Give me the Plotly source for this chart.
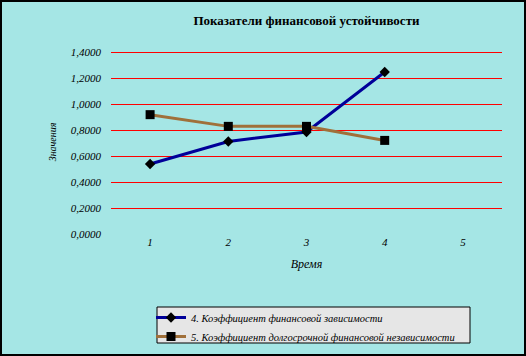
import plotly.graph_objects as go

periods = [1, 2, 3, 4]
x_ticks = [1, 2, 3, 4, 5]
dependence = [0.538, 0.712, 0.785, 1.246]
lt_independence = [0.918, 0.828, 0.828, 0.720]
y_ticks = [0, 0.2, 0.4, 0.6, 0.8, 1.0, 1.2, 1.4]

BG = "#A5E6E5"
W, H = 526, 356
ml, mr, mt, mb = 111, 24, 50, 122
pw, ph = W - ml - mr, H - mt - mb
y_top = 1.4 * ph / 182.0

def px(x):
    return (x - ml) / pw

def py(y):
    return (H - mb - y) / ph

fig = go.Figure()
fig.add_trace(go.Scatter(
    x=periods, y=dependence, mode="lines+markers",
    name="4. Коэффициент финансовой зависимости",
    line=dict(color="#000099", width=3),
    marker=dict(symbol="diamond", size=8, color="black"),
))
fig.add_trace(go.Scatter(
    x=periods, y=lt_independence, mode="lines+markers",
    name="5. Коэффициент долгосрочной финансовой независимости",
    line=dict(color="#A0703A", width=3),
    marker=dict(symbol="square", size=9, color="black"),
))

serif = "Liberation Serif, Times New Roman, serif"

fig.update_layout(
    width=W, height=H,
    margin=dict(l=ml, r=mr, t=mt, b=mb, autoexpand=False),
    paper_bgcolor=BG, plot_bgcolor=BG,
    separators=", ",
    font=dict(family=serif, size=10, color="black"),
    title=dict(text="<b>Показатели финансовой устойчивости</b>",
               x=0.5, xref="paper", xanchor="center",
               y=1 - 20 / H, yanchor="middle",
               font=dict(family=serif, size=13, color="black")),
    xaxis=dict(range=[0.5, 5.5], tickvals=x_ticks, ticktext=[str(v) for v in x_ticks],
               showgrid=False, zeroline=False, showline=False, ticks="",
               automargin=False,
               tickfont=dict(family=serif, size=11, style="italic"),
               title=dict(text="Время", standoff=12,
                          font=dict(family=serif, size=12, style="italic"))),
    yaxis=dict(range=[0, y_top], tickvals=y_ticks, tickformat=".4f",
               showgrid=True, gridcolor="#FF0000", gridwidth=1,
               zeroline=True, zerolinecolor=BG, zerolinewidth=1,
               showline=False, ticks="", ticklabelstandoff=9,
               automargin=False,
               tickfont=dict(family=serif, size=11, style="italic"),
               title=dict(text="Значения", standoff=12,
                          font=dict(family=serif, size=10, style="italic"))),
    legend=dict(x=px(151), y=py(303), xanchor="left", yanchor="top",
                bgcolor="rgba(0,0,0,0)", borderwidth=0,
                tracegroupgap=0, itemwidth=30,
                font=dict(family=serif, size=10.5, style="italic")),
    shapes=[
        dict(type="rect", xref="paper", yref="paper",
             x0=px(157), x1=px(470), y0=py(307), y1=py(343),
             fillcolor="#E6E6E6", line=dict(color="black", width=1), layer="below"),
        dict(type="rect", xref="paper", yref="paper",
             x0=px(1), x1=px(525), y0=py(1), y1=py(355),
             line=dict(color="black", width=2), fillcolor="rgba(0,0,0,0)"),
    ],
)

fig.write_html(
    "out.html",
    config={"displayModeBar": False},
    post_script="document.body.style.margin='0';document.body.style.overflow='hidden';",
)
